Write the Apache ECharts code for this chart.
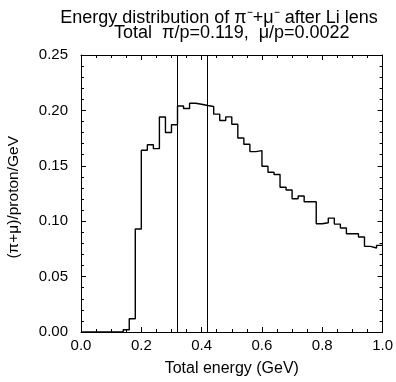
<!DOCTYPE html>
<html><head><meta charset="utf-8">
<script src="https://cdn.jsdelivr.net/npm/echarts@6/dist/echarts.min.js"></script>
<style>html,body{margin:0;padding:0;background:#fff}#c{width:396px;height:382px}</style>
</head><body><div id="c"></div>
<script>
var binStart = 0.0;
var binWidth = 0.02;
var values = [0,0,0,0,0,0,0,0.002,0.012,0.093,
  0.164,0.169,0.1655,0.194,0.180,0.187,0.204,0.2017,0.2065,0.2056,
  0.2044,0.2035,0.1966,0.1909,0.1942,0.1875,0.1751,0.1694,0.1628,0.1637,
  0.1496,0.1442,0.1421,0.1307,0.1282,0.1203,0.1227,0.1175,0.1175,0.0977,
  0.0986,0.1028,0.0974,0.0938,0.0887,0.0887,0.0857,0.0773,0.0758,0.0782];
var cutLines = [0.32, 0.42];
var titleLine1 = 'Energy distribution of π⁻+μ⁻ after Li lens';
var titleLine2 = 'Total  π/p=0.119,  μ/p=0.0022';
var xName = 'Total energy (GeV)';
var yName = '(π+μ)/proton/GeV';

var pts = values.map(function(v,i){return [+(binStart+i*binWidth).toFixed(4), v];});
pts.push([+(binStart+values.length*binWidth).toFixed(4), values[values.length-1]]);

var font = 'Liberation Sans, Arial, sans-serif';
function xAx(pos, show){
  return {type:'value', position:pos, min:0, max:1, interval:0.2,
    axisLine:{show:true, onZero:false, lineStyle:{color:'#000', width:1}},
    axisTick:{show:true, inside:true, length:5, lineStyle:{color:'#000'}},
    minorTick:{show:true, splitNumber:4, length:3, lineStyle:{color:'#000'}},
    splitLine:{show:false}, minorSplitLine:{show:false},
    axisLabel:{show:show, color:'#000', fontFamily:font, fontSize:15, margin:6,
      formatter:function(v){return v.toFixed(1);}},
    name: show ? xName : '', nameLocation:'middle', nameGap:29,
    nameTextStyle:{color:'#000', fontFamily:font, fontSize:16}};
}
function yAx(pos, show){
  return {type:'value', position:pos, min:0, max:0.25, interval:0.05,
    axisLine:{show:true, onZero:false, lineStyle:{color:'#000', width:1}},
    axisTick:{show:true, inside:true, length:5, lineStyle:{color:'#000'}},
    minorTick:{show:true, splitNumber:5, length:3, lineStyle:{color:'#000'}},
    splitLine:{show:false}, minorSplitLine:{show:false},
    axisLabel:{show:show, color:'#000', fontFamily:font, fontSize:15, margin:13,
      formatter:function(v){return v.toFixed(2);}},
    name:'', nameLocation:'middle'};
}
var chart = echarts.init(document.getElementById('c'), null, {renderer:'canvas'});
chart.setOption({
  animation:false,
  backgroundColor:'#fff',
  title:[
    {text:titleLine1, left:214, top:4, textAlign:'center',
      textStyle:{color:'#000', fontFamily:font, fontSize:18, fontWeight:'normal', lineHeight:18}},
    {text:titleLine2, left:109, top:19,
      textStyle:{color:'#000', fontFamily:font, fontSize:18, fontWeight:'normal', lineHeight:18}}
  ],
  graphic:[{type:'text', left:6, top:136, rotation:Math.PI/2,
    style:{text:yName, fill:'#000', font:'15.5px ' + font}}],
  grid:{left:81, right:12, top:55, bottom:49},
  xAxis:[xAx('bottom', true), xAx('top', false)],
  yAxis:[yAx('left', true), yAx('right', false)],
  series:[{type:'line', step:'end', data:pts, showSymbol:false, symbol:'none',
    lineStyle:{color:'#000', width:1.4},
    markLine:{silent:true, symbol:['none','none'], label:{show:false},
      lineStyle:{color:'#000', type:'solid', width:1},
      data: cutLines.map(function(c){return {xAxis:c};})}}]
});
</script></body></html>
